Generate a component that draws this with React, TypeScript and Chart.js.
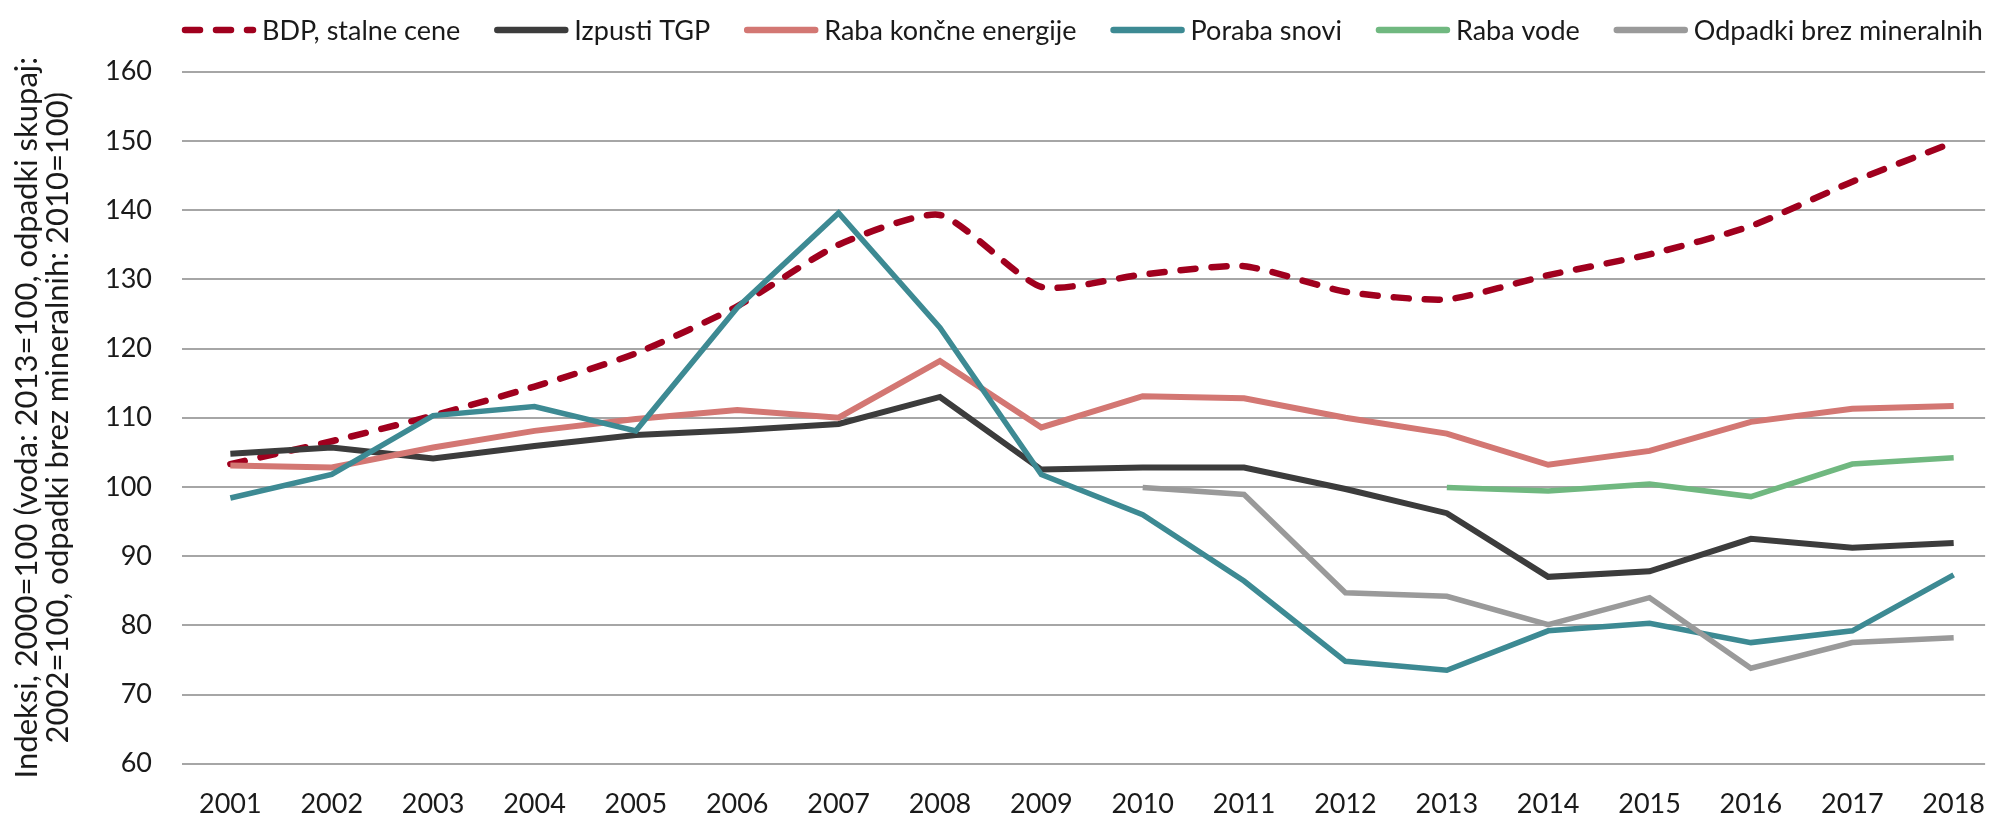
import React, { useEffect, useRef } from 'react';
import { Chart, registerables } from 'chart.js';

Chart.register(...registerables);

const years = [2001, 2002, 2003, 2004, 2005, 2006, 2007, 2008, 2009, 2010, 2011, 2012, 2013, 2014, 2015, 2016, 2017, 2018];

const bdp = [103.3, 106.6, 110.3, 114.5, 119.3, 126.1, 135.0, 139.3, 128.9, 130.7, 131.9, 128.2, 127.1, 130.6, 133.6, 137.7, 144.1, 149.8];
const tgp = [104.8, 105.7, 104.1, 105.9, 107.5, 108.2, 109.1, 113.0, 102.5, 102.8, 102.8, 99.7, 96.2, 87.0, 87.8, 92.5, 91.2, 91.9];
const energija = [103.1, 102.8, 105.7, 108.1, 109.8, 111.1, 110.0, 118.2, 108.6, 113.1, 112.8, 110.0, 107.7, 103.2, 105.2, 109.4, 111.3, 111.7];
const snovi = [98.4, 101.8, 110.3, 111.6, 108.1, 125.9, 139.6, 123.0, 101.8, 96.0, 86.4, 74.8, 73.5, 79.2, 80.3, 77.5, 79.2, 87.3];
const voda = [null, null, null, null, null, null, null, null, null, null, null, null, 99.9, 99.4, 100.4, 98.6, 103.3, 104.2];
const odpadki = [null, null, null, null, null, null, null, null, null, 99.9, 98.9, 84.7, 84.2, 80.1, 84.0, 73.8, 77.5, 78.2];

const seriesLabels = ['BDP, stalne cene', 'Izpusti TGP', 'Raba končne energije', 'Poraba snovi', 'Raba vode', 'Odpadki brez mineralnih'];
const yTitle = ['Indeksi, 2000=100 (voda: 2013=100, odpadki skupaj:', '2002=100, odpadki brez mineralnih: 2010=100)'];

const FONT = 'Lato';
const TEXT = '#1a1a1a';

const toPoints = (vals: (number | null)[]) => vals.map((v, i) => ({ x: years[i], y: v }));

const legendPlugin = {
  id: 'customLegend',
  afterDraw(chart: any) {
    const ctx = chart.ctx as CanvasRenderingContext2D;
    ctx.save();
    ctx.font = `27px ${FONT}`;
    ctx.textBaseline = 'alphabetic';
    ctx.textAlign = 'left';
    let x = chart.chartArea.left;
    const y = 30;
    chart.data.datasets.forEach((ds: any) => {
      ctx.beginPath();
      ctx.strokeStyle = ds.borderColor;
      ctx.lineWidth = 6.5;
      ctx.lineCap = 'round';
      ctx.setLineDash(ds.borderDash || []);
      ctx.moveTo(x + 3, y);
      ctx.lineTo(x + 71, y);
      ctx.stroke();
      ctx.setLineDash([]);
      ctx.fillStyle = TEXT;
      ctx.fillText(ds.label, x + 80, y + 10);
      x += 80 + ctx.measureText(ds.label).width + 34;
    });
    ctx.restore();
  },
};

export default function App() {
  const ref = useRef<HTMLCanvasElement | null>(null);

  useEffect(() => {
    document.body.style.margin = '0';
    const canvas = ref.current;
    if (!canvas) return;
    Chart.defaults.font.family = FONT;

    const colors = ['#a0001e', '#3c3c3c', '#d37773', '#3d8a93', '#70b880', '#9a9a9a'];
    const widths = [6.5, 6, 6, 5.5, 5.5, 5.5];
    const values = [bdp, tgp, energija, snovi, voda, odpadki];

    const datasets = values.map((vals, i) => ({
      label: seriesLabels[i],
      data: toPoints(vals),
      borderColor: colors[i],
      backgroundColor: colors[i],
      borderWidth: widths[i],
      borderDash: i === 0 ? [15, 16] : undefined,
      borderCapStyle: i === 0 ? 'round' : 'butt',
      borderJoinStyle: i === 0 ? 'round' : 'miter',
      tension: i === 0 ? 0.2 : 0,
      pointRadius: 0,
      pointHoverRadius: 0,
      fill: false,
      spanGaps: false,
      order: 5 - i,
    }));

    const chart = new Chart(canvas, {
      type: 'line',
      data: { datasets: datasets as any },
      plugins: [legendPlugin],
      options: {
        responsive: false,
        animation: false,
        layout: { padding: { top: 71.7, left: 0, right: 0, bottom: 0 } },
        plugins: {
          legend: { display: false },
          tooltip: { enabled: false },
        },
        scales: {
          x: {
            type: 'linear',
            min: 2000.523,
            max: 2018.31,
            grid: { display: false, drawTicks: false },
            border: { display: false },
            afterBuildTicks: (s: any) => {
              s.ticks = years.map((v) => ({ value: v }));
            },
            afterFit: (s: any) => {
              s.height = 53.3;
            },
            ticks: {
              autoSkip: false,
              maxRotation: 0,
              padding: 24,
              color: TEXT,
              font: { family: FONT, size: 27 },
              callback: (v: any) => String(v),
            },
          },
          y: {
            min: 60,
            max: 160,
            afterFit: (s: any) => {
              s.width = 182;
            },
            grid: { color: '#a6a6a6', lineWidth: 2, drawTicks: false, tickLength: 0 },
            border: { display: false },
            ticks: {
              stepSize: 10,
              padding: 30,
              color: TEXT,
              font: { family: FONT, size: 27 },
            },
            title: {
              display: true,
              text: yTitle,
              color: TEXT,
              font: { family: FONT, size: 31, lineHeight: 1.02 },
              padding: { top: 11, bottom: 0 },
            },
          },
        },
      } as any,
    });
    return () => chart.destroy();
  }, []);

  return (
    <div style={{ position: 'absolute', left: 0, top: 0, width: 2009, height: 817 }}>
      <canvas ref={ref} width={2009} height={817} style={{ display: 'block', width: 2009, height: 817 }} />
    </div>
  );
}
